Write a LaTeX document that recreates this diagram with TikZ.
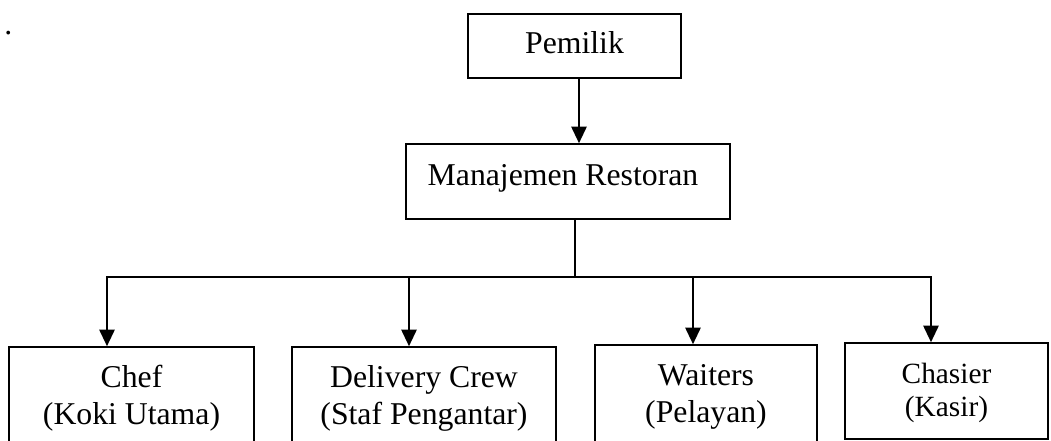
\documentclass[tikz,border=0pt]{standalone}
\usepackage{fontspec}
\setmainfont{Liberation Serif}
\usetikzlibrary{arrows.meta}
\begin{document}
\begin{tikzpicture}[x=0.75pt,y=-0.75pt,
  box/.style={draw, line width=1.2pt, rectangle, inner sep=0pt,
    font=\fontsize{23.8pt}{27.75pt}\selectfont},
  smallbox/.style={box, font=\fontsize{22pt}{24.75pt}\selectfont},
  conn/.style={line width=1.5pt},
  stub/.style={line width=1.1pt},
  arr/.style={conn, -{Triangle[length=12.5pt,width=11.5pt]}}]
\useasboundingbox (0,0) rectangle (1051,440);
\clip (0,0) rectangle (1051,440);
\node[inner sep=0pt, anchor=base west, font=\fontsize{23.8pt}{27.75pt}\selectfont] (dot) at (4,34) {.};
% top boxes
\node[box, minimum width=159.75pt, minimum height=48pt, text height=10.5pt, text depth=0pt] (pem) at (574.5,46) {Pemilik};
\node[box, minimum width=243pt, minimum height=56.25pt, text height=5.25pt, text depth=0pt] (man) at (568,181.5) {Manajemen Restoran\hspace*{7.5pt}};
% bottom boxes
\node[box, minimum width=183.75pt, minimum height=84.75pt, text height=0pt, text depth=24.75pt] (chef) at (131.5,403.5)
  {\begin{tabular}[t]{@{}c@{}}Chef\\(Koki Utama)\end{tabular}};
\node[box, minimum width=198pt, minimum height=84.75pt, text height=0pt, text depth=24.75pt] (del) at (424,403.5)
  {\begin{tabular}[t]{@{}c@{}}Delivery Crew\\(Staf Pengantar)\end{tabular}};
\node[box, minimum width=166.5pt, minimum height=86.25pt, text height=0pt, text depth=26.25pt] (wai) at (706,402.5)
  {\begin{tabular}[t]{@{}c@{}}Waiters\\(Pelayan)\end{tabular}};
\node[smallbox, minimum width=152.25pt, minimum height=72pt, text height=0pt, text depth=12pt] (cha) at (946.5,391)
  {\begin{tabular}[t]{@{}c@{}}Chasier\\(Kasir)\end{tabular}};
% connectors
\coordinate (a0) at (579,0);
\draw[arr] (pem.south -| a0) -- (man.north -| a0);
\coordinate (j) at (575,277);
\coordinate (hL) at (107,277);
\coordinate (h2) at (409,277);
\coordinate (h3) at (693,277);
\coordinate (hR) at (931,277);
\draw[stub] (man.south -| j) -- (j);
\draw[conn, line cap=rect] (hL) -- (hR);
\draw[arr] (hL) -- (chef.north -| hL);
\draw[arr] (h2) -- (del.north -| h2);
\draw[arr] (h3) -- (wai.north -| h3);
\draw[arr] (hR) -- (cha.north -| hR);
\end{tikzpicture}
\end{document}
